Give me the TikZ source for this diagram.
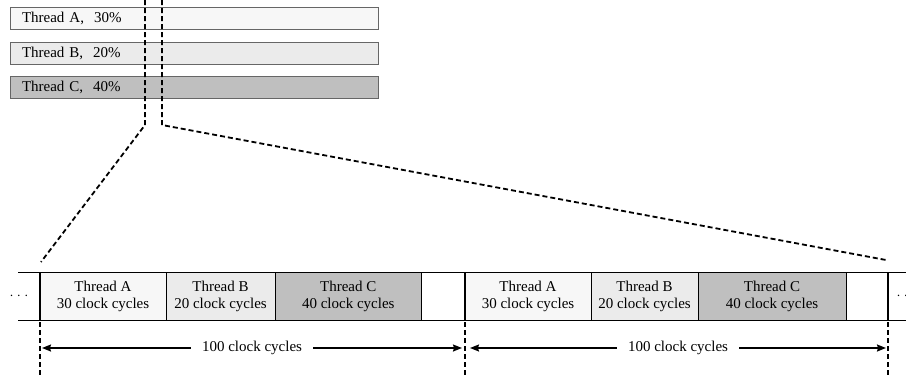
\documentclass[tikz,border=0pt]{standalone}
\usepackage{fontspec}
\setmainfont{Liberation Serif}
\usetikzlibrary{arrows.meta,positioning,shadows}

\begin{document}
\begin{tikzpicture}[x=1pt, y=-1pt, font=\fontsize{15}{17}\selectfont,
    bar/.style={draw=black!60, line width=0.8pt, minimum height=22pt, text width=344pt,
        inner xsep=12pt, inner ysep=0pt, align=left,
        drop shadow={shadow xshift=0.9pt, shadow yshift=-0.9pt, fill=black, opacity=0.8}},
    cell/.style={draw, line width=0.8pt, minimum height=48pt, inner sep=0pt, outer sep=0pt, align=center},
    zoomline/.style={line width=1.8pt, dash pattern=on 5pt off 3pt},
    periodline/.style={line width=2.5pt},
    spanarrow/.style={line width=1.5pt, {Stealth[length=9pt,width=7pt,inset=1pt]}-{Stealth[length=9pt,width=7pt,inset=1pt]}}]
    \useasboundingbox (0,0) rectangle (906,375);

    % Thread shares
    \node[bar, fill=black!3] (barA) at (194,18.5) {Thread A,\ \ 30\%};
    \node[bar, fill=black!8] (barB) at (194,53) {Thread B,\ \ 20\%};
    \node[bar, fill=black!25] (barC) at (194,87.5) {Thread C,\ \ 40\%};

    % Time line
    \draw[line width=0.8pt] (18,272) -- (906,272);
    \draw[line width=0.8pt] (18,320) -- (906,320);
    \node at (19,296) {$\cdot$\hspace{3.5pt}$\cdot$\hspace{3.5pt}$\cdot$};
    \node at (906,296) {$\cdot$\hspace{3.5pt}$\cdot$\hspace{3.5pt}$\cdot$};

    % First period
    \node[cell, fill=black!3, minimum width=126pt] (a1) at (103,296) {Thread A\\30 clock cycles};
    \node[cell, fill=black!8, minimum width=109pt, right=0pt of a1] (b1) {Thread B\\20 clock cycles};
    \node[cell, fill=black!25, minimum width=146.5pt, right=0pt of b1] (c1) {Thread C\\40 clock cycles};
    \node[cell, fill=white, minimum width=43.5pt, right=0pt of c1] (e1) {};

    % Second period
    \node[cell, fill=black!3, minimum width=126pt, right=0pt of e1] (a2) {Thread A\\30 clock cycles};
    \node[cell, fill=black!8, minimum width=107pt, right=0pt of a2] (b2) {Thread B\\20 clock cycles};
    \node[cell, fill=black!25, minimum width=148pt, right=0pt of b2] (c2) {Thread C\\40 clock cycles};
    \node[cell, fill=white, minimum width=42pt, right=0pt of c2] (e2) {};

    \draw[periodline] (a1.north west) -- (a1.south west);
    \draw[periodline] (a2.north west) -- (a2.south west);
    \draw[periodline] (e2.north east) -- (e2.south east);

    % Period limits
    \coordinate (d1) at (40,375);
    \coordinate (d2) at (465,375);
    \coordinate (d3) at (888,375);
    \draw[zoomline] ([yshift=-2pt]a1.south west) -- (d1);
    \draw[zoomline] ([yshift=-2pt]a2.south west) -- (d2);
    \draw[zoomline] ([yshift=-2pt]e2.south east) -- (d3);

    \coordinate (l1) at (42,348);
    \coordinate (r1) at (462,348);
    \coordinate (l2) at (470,348);
    \coordinate (r2) at (886,348);
    \draw[spanarrow] (l1) -- node[fill=white, inner xsep=11pt] {100 clock cycles} (r1);
    \draw[spanarrow] (l2) -- node[fill=white, inner xsep=11pt] {100 clock cycles} (r2);

    % Zoom
    \coordinate (t1) at (145,0);
    \coordinate (k1) at (145,125);
    \coordinate (z1) at (41,262);
    \coordinate (t2) at (162,0);
    \coordinate (k2) at (162,125);
    \coordinate (z2) at (886,260);
    \draw[zoomline] (t1) -- (k1) -- (z1);
    \draw[zoomline] (t2) -- (k2) -- (z2);
\end{tikzpicture}
\end{document}
